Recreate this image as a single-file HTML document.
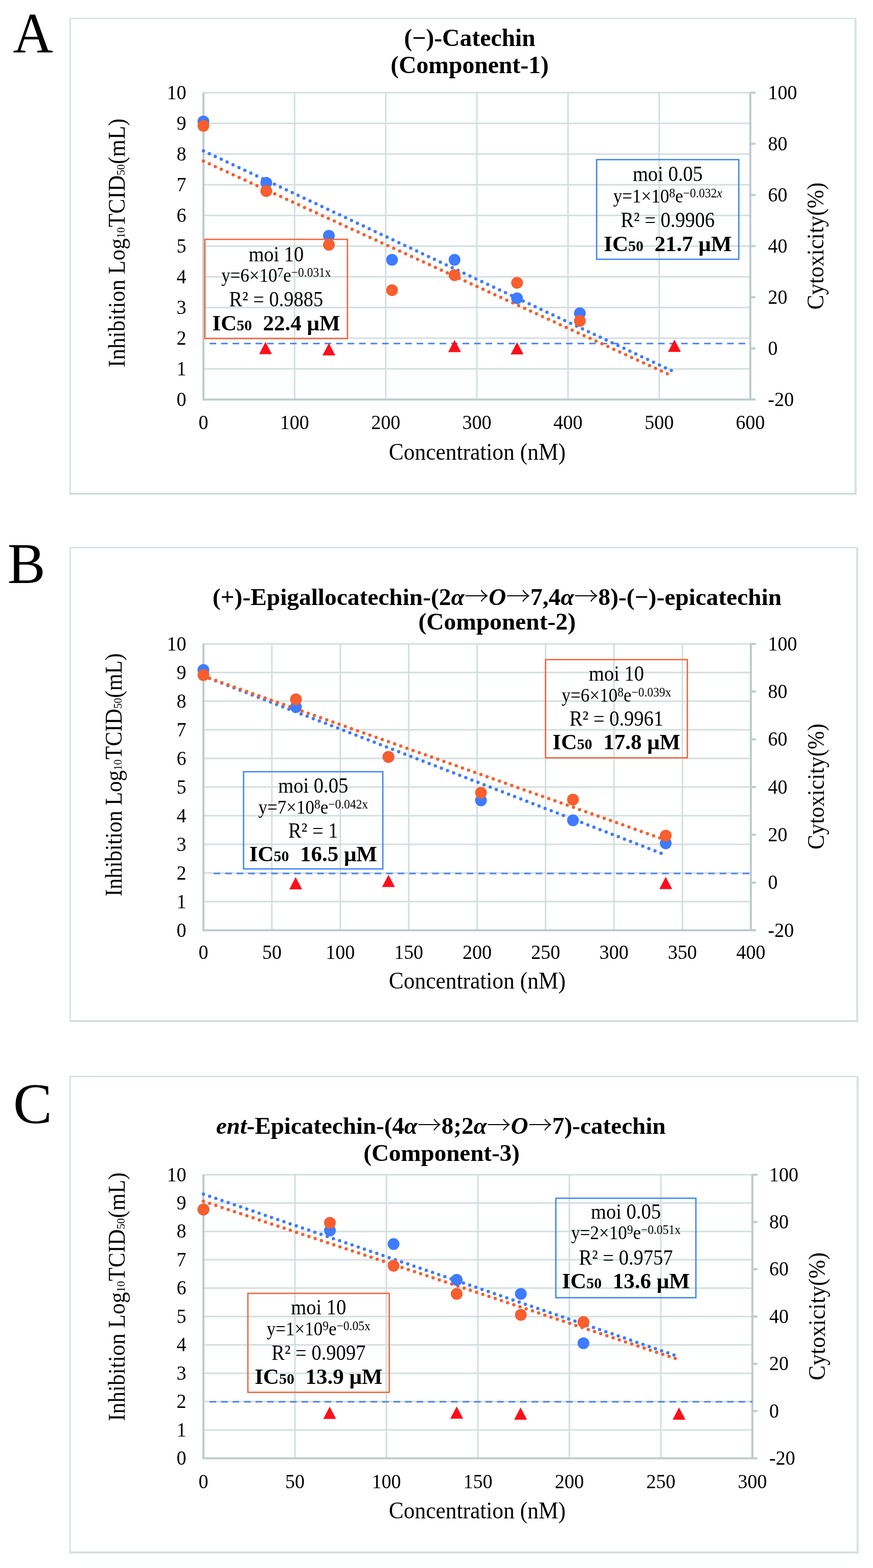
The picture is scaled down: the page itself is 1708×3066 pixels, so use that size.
<!DOCTYPE html><html><head><meta charset="utf-8"><title>Inhibition charts</title>
<style>html,body{margin:0;padding:0;background:#fff;}svg{display:block;}text{font-family:'Liberation Serif',serif;fill:#000;}</style></head><body>
<svg width="1708" height="3066" viewBox="0 0 1708 3066">
<rect width="1708" height="3066" fill="#fff"/>
<g>
<path d="M137.2 965.5V36H1673.9" fill="none" stroke="#d0dbdb" stroke-width="2.2"/>
<path d="M1673.9 35V967.5" fill="none" stroke="#d9e1e2" stroke-width="4"/>
<path d="M136.2 965.5H1673.9" fill="none" stroke="#d0dbdb" stroke-width="3.5"/>
<text transform="translate(25.2,103.2) scale(0.98,1.02)" font-size="111">A</text>
<path d="M576.33 181.3V781.2M754.67 181.3V781.2M933 181.3V781.2M1111.33 181.3V781.2M1289.67 181.3V781.2M398 721.21H1468M398 661.22H1468M398 601.23H1468M398 541.24H1468M398 481.25H1468M398 421.26H1468M398 361.27H1468M398 301.28H1468M398 241.29H1468M398 181.3H1468" stroke="#d4dede" stroke-width="3" fill="none"/>
<path d="M398 181.3V781.2H1468M1468 181.3V781.2M1468 781.2h10M1468 681.22h10M1468 581.23h10M1468 481.25h10M1468 381.27h10M1468 281.28h10M1468 181.3h10" stroke="#bfcbcd" stroke-width="4" fill="none"/>
<text transform="translate(364.5,793.7) scale(1,1.08)" font-size="38" text-anchor="end">0</text>
<text transform="translate(364.5,733.71) scale(1,1.08)" font-size="38" text-anchor="end">1</text>
<text transform="translate(364.5,673.72) scale(1,1.08)" font-size="38" text-anchor="end">2</text>
<text transform="translate(364.5,613.73) scale(1,1.08)" font-size="38" text-anchor="end">3</text>
<text transform="translate(364.5,553.74) scale(1,1.08)" font-size="38" text-anchor="end">4</text>
<text transform="translate(364.5,493.75) scale(1,1.08)" font-size="38" text-anchor="end">5</text>
<text transform="translate(364.5,433.76) scale(1,1.08)" font-size="38" text-anchor="end">6</text>
<text transform="translate(364.5,373.77) scale(1,1.08)" font-size="38" text-anchor="end">7</text>
<text transform="translate(364.5,313.78) scale(1,1.08)" font-size="38" text-anchor="end">8</text>
<text transform="translate(364.5,253.79) scale(1,1.08)" font-size="38" text-anchor="end">9</text>
<text transform="translate(364.5,193.8) scale(1,1.08)" font-size="38" text-anchor="end">10</text>
<text transform="translate(1502.5,793.7) scale(1,1.08)" font-size="38">-20</text>
<text transform="translate(1502.5,693.72) scale(1,1.08)" font-size="38">0</text>
<text transform="translate(1502.5,593.73) scale(1,1.08)" font-size="38">20</text>
<text transform="translate(1502.5,493.75) scale(1,1.08)" font-size="38">40</text>
<text transform="translate(1502.5,393.77) scale(1,1.08)" font-size="38">60</text>
<text transform="translate(1502.5,293.78) scale(1,1.08)" font-size="38">80</text>
<text transform="translate(1502.5,193.8) scale(1,1.08)" font-size="38">100</text>
<text transform="translate(398,839) scale(1,1.08)" font-size="38" text-anchor="middle">0</text>
<text transform="translate(576.33,839) scale(1,1.08)" font-size="38" text-anchor="middle">100</text>
<text transform="translate(754.67,839) scale(1,1.08)" font-size="38" text-anchor="middle">200</text>
<text transform="translate(933,839) scale(1,1.08)" font-size="38" text-anchor="middle">300</text>
<text transform="translate(1111.33,839) scale(1,1.08)" font-size="38" text-anchor="middle">400</text>
<text transform="translate(1289.67,839) scale(1,1.08)" font-size="38" text-anchor="middle">500</text>
<text transform="translate(1468,839) scale(1,1.08)" font-size="38" text-anchor="middle">600</text>
<text transform="translate(243.7,475) rotate(-90) scale(1,1.08)" font-size="43.45" text-anchor="middle">Inhibition Log<tspan font-size="21.73">10</tspan>TCID<tspan font-size="21.73">50</tspan>(mL)</text>
<text transform="translate(1611.4,481.2) rotate(-90) scale(1,1.08)" font-size="43.5" text-anchor="middle">Cytoxicity(%)</text>
<text transform="translate(933.75,899) scale(1,1.08)" font-size="43.4" text-anchor="middle">Concentration (nM)</text>
<text transform="translate(919,90)" font-size="47.6" text-anchor="middle" font-weight="bold">(−)-Catechin</text>
<text transform="translate(919,142.7)" font-size="47.6" text-anchor="middle" font-weight="bold">(Component-1)</text>
<path d="M410 671.7H1468" stroke="#4a84f6" stroke-width="3" stroke-dasharray="13 9.5" fill="none"/>
<path d="M398 295L1317.5 726.5" stroke="#3e7bff" stroke-width="6.5" stroke-linecap="round" stroke-dasharray="0 12.8" fill="none"/>
<path d="M398 315L1312.5 734" stroke="#f85e2e" stroke-width="6.5" stroke-linecap="round" stroke-dasharray="0 12.8" fill="none"/>
<circle cx="398" cy="237.5" r="11.5" fill="#3e7bff"/>
<circle cx="521" cy="357.5" r="11.5" fill="#3e7bff"/>
<circle cx="643.5" cy="461" r="11.5" fill="#3e7bff"/>
<circle cx="767" cy="508" r="11.5" fill="#3e7bff"/>
<circle cx="889.3" cy="508" r="11.5" fill="#3e7bff"/>
<circle cx="1011.6" cy="583.2" r="11.5" fill="#3e7bff"/>
<circle cx="1134.5" cy="612.5" r="11.5" fill="#3e7bff"/>
<circle cx="398" cy="246" r="11.5" fill="#f85e2e"/>
<circle cx="521" cy="373.5" r="11.5" fill="#f85e2e"/>
<circle cx="643.5" cy="478.6" r="11.5" fill="#f85e2e"/>
<circle cx="767" cy="567.4" r="11.5" fill="#f85e2e"/>
<circle cx="889.3" cy="538" r="11.5" fill="#f85e2e"/>
<circle cx="1011.6" cy="553" r="11.5" fill="#f85e2e"/>
<circle cx="1134.5" cy="627.5" r="11.5" fill="#f85e2e"/>
<path d="M519.4 668.6L531.9 692.6H506.9Z" fill="#ff0d1a"/>
<path d="M643.5 671L656 695H631Z" fill="#ff0d1a"/>
<path d="M889.3 664.5L901.8 688.5H876.8Z" fill="#ff0d1a"/>
<path d="M1011.6 669L1024.1 693H999.1Z" fill="#ff0d1a"/>
<path d="M1319.5 664L1332 688H1307Z" fill="#ff0d1a"/>
<rect x="400.9" y="468" width="278.9" height="194" fill="none" stroke="#f4623a" stroke-width="2.6"/>
<text transform="translate(540.35,511) scale(1,1.08)" font-size="38.5" text-anchor="middle">moi 10</text>
<text transform="translate(540.35,551.2) scale(1,1.08)" font-size="35" text-anchor="middle">y=6×10<tspan font-size="23.5" dy="-9">7</tspan><tspan dy="9">e</tspan><tspan font-size="23.5" dy="-9">−0.031x</tspan></text>
<text transform="translate(540.35,599.3) scale(1,1.08)" font-size="38.5" text-anchor="middle">R² = 0.9885</text>
<text transform="translate(540.35,646.3)" font-size="43" text-anchor="middle" font-weight="bold" style="white-space:pre">IC<tspan font-size="30">50</tspan>  22.4 μM</text>
<rect x="1167.3" y="312.1" width="278.1" height="194.9" fill="none" stroke="#3d85f5" stroke-width="2.6"/>
<text transform="translate(1306.35,354.4) scale(1,1.08)" font-size="38.5" text-anchor="middle">moi 0.05</text>
<text transform="translate(1306.35,396.2) scale(1,1.08)" font-size="35" text-anchor="middle">y=1×10<tspan font-size="23.5" dy="-9">8</tspan><tspan dy="9">e</tspan><tspan font-size="23.5" dy="-9">−0.032<tspan font-style="italic">x</tspan></tspan></text>
<text transform="translate(1306.35,444.3) scale(1,1.08)" font-size="38.5" text-anchor="middle">R² = 0.9906</text>
<text transform="translate(1306.35,490.7)" font-size="43" text-anchor="middle" font-weight="bold" style="white-space:pre">IC<tspan font-size="30">50</tspan>  21.7 μM</text>
</g>
<g>
<path d="M137.2 1996.5V1071H1677" fill="none" stroke="#d0dbdb" stroke-width="2.2"/>
<path d="M1677 1070V1998.5" fill="none" stroke="#d9e1e2" stroke-width="4"/>
<path d="M136.2 1996.5H1677" fill="none" stroke="#d0dbdb" stroke-width="3.5"/>
<text transform="translate(14.8,1140.3) scale(1,1.02)" font-size="111">B</text>
<path d="M531.88 1259V1819M665.75 1259V1819M799.62 1259V1819M933.5 1259V1819M1067.38 1259V1819M1201.25 1259V1819M1335.12 1259V1819M398 1763H1469M398 1707H1469M398 1651H1469M398 1595H1469M398 1539H1469M398 1483H1469M398 1427H1469M398 1371H1469M398 1315H1469M398 1259H1469" stroke="#d4dede" stroke-width="3" fill="none"/>
<path d="M398 1259V1819H1469M1469 1259V1819M1469 1819h10M1469 1725.67h10M1469 1632.33h10M1469 1539h10M1469 1445.67h10M1469 1352.33h10M1469 1259h10" stroke="#bfcbcd" stroke-width="4" fill="none"/>
<text transform="translate(364.5,1831.5) scale(1,1.08)" font-size="38" text-anchor="end">0</text>
<text transform="translate(364.5,1775.5) scale(1,1.08)" font-size="38" text-anchor="end">1</text>
<text transform="translate(364.5,1719.5) scale(1,1.08)" font-size="38" text-anchor="end">2</text>
<text transform="translate(364.5,1663.5) scale(1,1.08)" font-size="38" text-anchor="end">3</text>
<text transform="translate(364.5,1607.5) scale(1,1.08)" font-size="38" text-anchor="end">4</text>
<text transform="translate(364.5,1551.5) scale(1,1.08)" font-size="38" text-anchor="end">5</text>
<text transform="translate(364.5,1495.5) scale(1,1.08)" font-size="38" text-anchor="end">6</text>
<text transform="translate(364.5,1439.5) scale(1,1.08)" font-size="38" text-anchor="end">7</text>
<text transform="translate(364.5,1383.5) scale(1,1.08)" font-size="38" text-anchor="end">8</text>
<text transform="translate(364.5,1327.5) scale(1,1.08)" font-size="38" text-anchor="end">9</text>
<text transform="translate(364.5,1271.5) scale(1,1.08)" font-size="38" text-anchor="end">10</text>
<text transform="translate(1502.5,1831.5) scale(1,1.08)" font-size="38">-20</text>
<text transform="translate(1502.5,1738.17) scale(1,1.08)" font-size="38">0</text>
<text transform="translate(1502.5,1644.83) scale(1,1.08)" font-size="38">20</text>
<text transform="translate(1502.5,1551.5) scale(1,1.08)" font-size="38">40</text>
<text transform="translate(1502.5,1458.17) scale(1,1.08)" font-size="38">60</text>
<text transform="translate(1502.5,1364.83) scale(1,1.08)" font-size="38">80</text>
<text transform="translate(1502.5,1271.5) scale(1,1.08)" font-size="38">100</text>
<text transform="translate(398,1875) scale(1,1.08)" font-size="38" text-anchor="middle">0</text>
<text transform="translate(531.88,1875) scale(1,1.08)" font-size="38" text-anchor="middle">50</text>
<text transform="translate(665.75,1875) scale(1,1.08)" font-size="38" text-anchor="middle">100</text>
<text transform="translate(799.62,1875) scale(1,1.08)" font-size="38" text-anchor="middle">150</text>
<text transform="translate(933.5,1875) scale(1,1.08)" font-size="38" text-anchor="middle">200</text>
<text transform="translate(1067.38,1875) scale(1,1.08)" font-size="38" text-anchor="middle">250</text>
<text transform="translate(1201.25,1875) scale(1,1.08)" font-size="38" text-anchor="middle">300</text>
<text transform="translate(1335.12,1875) scale(1,1.08)" font-size="38" text-anchor="middle">350</text>
<text transform="translate(1469,1875) scale(1,1.08)" font-size="38" text-anchor="middle">400</text>
<text transform="translate(238.1,1515.1) rotate(-90) scale(1,1.08)" font-size="42.5" text-anchor="middle">Inhibition Log<tspan font-size="21.25">10</tspan>TCID<tspan font-size="21.25">50</tspan>(mL)</text>
<text transform="translate(1612.4,1538) rotate(-90) scale(1,1.08)" font-size="43" text-anchor="middle">Cytoxicity(%)</text>
<text transform="translate(933.75,1932.5) scale(1,1.08)" font-size="43.4" text-anchor="middle">Concentration (nM)</text>
<text transform="translate(972.5,1182.5)" font-size="47.4" text-anchor="middle" font-weight="bold">(+)-Epigallocatechin-(2<tspan font-style="italic">α</tspan><tspan font-family="'Noto Serif CJK SC', serif" font-weight="normal">→</tspan><tspan font-style="italic">O</tspan><tspan font-family="'Noto Serif CJK SC', serif" font-weight="normal">→</tspan>7,4<tspan font-style="italic">α</tspan><tspan font-family="'Noto Serif CJK SC', serif" font-weight="normal">→</tspan>8)-(−)-epicatechin</text>
<text transform="translate(972.5,1231)" font-size="47.4" text-anchor="middle" font-weight="bold">(Component-2)</text>
<path d="M418 1708H1469" stroke="#4a84f6" stroke-width="3" stroke-dasharray="13 9.5" fill="none"/>
<path d="M398 1322L1297.5 1670" stroke="#3e7bff" stroke-width="6.5" stroke-linecap="round" stroke-dasharray="0 12.8" fill="none"/>
<path d="M398 1322L1295 1640" stroke="#f85e2e" stroke-width="6.5" stroke-linecap="round" stroke-dasharray="0 12.8" fill="none"/>
<circle cx="398" cy="1310" r="11.5" fill="#3e7bff"/>
<circle cx="579" cy="1382.5" r="11.5" fill="#3e7bff"/>
<circle cx="760" cy="1480" r="11.5" fill="#3e7bff"/>
<circle cx="941" cy="1565" r="11.5" fill="#3e7bff"/>
<circle cx="1121" cy="1604" r="11.5" fill="#3e7bff"/>
<circle cx="1302.5" cy="1649" r="11.5" fill="#3e7bff"/>
<circle cx="398" cy="1320" r="11.5" fill="#f85e2e"/>
<circle cx="579" cy="1367.5" r="11.5" fill="#f85e2e"/>
<circle cx="760" cy="1480" r="11.5" fill="#f85e2e"/>
<circle cx="941" cy="1550" r="11.5" fill="#f85e2e"/>
<circle cx="1121" cy="1563.5" r="11.5" fill="#f85e2e"/>
<circle cx="1302.5" cy="1634" r="11.5" fill="#f85e2e"/>
<path d="M578.5 1715L591 1739H566Z" fill="#ff0d1a"/>
<path d="M760 1710.5L772.5 1734.5H747.5Z" fill="#ff0d1a"/>
<path d="M1302.5 1714.5L1315 1738.5H1290Z" fill="#ff0d1a"/>
<rect x="476.5" y="1509" width="272.5" height="190" fill="none" stroke="#3d85f5" stroke-width="2.6"/>
<text transform="translate(612.75,1550) scale(1,1.08)" font-size="38.5" text-anchor="middle">moi 0.05</text>
<text transform="translate(612.75,1591) scale(1,1.08)" font-size="35" text-anchor="middle">y=7×10<tspan font-size="23.5" dy="-9">8</tspan><tspan dy="9">e</tspan><tspan font-size="23.5" dy="-9">−0.042x</tspan></text>
<text transform="translate(612.75,1637.5) scale(1,1.08)" font-size="38.5" text-anchor="middle">R² = 1</text>
<text transform="translate(612.75,1684)" font-size="43" text-anchor="middle" font-weight="bold" style="white-space:pre">IC<tspan font-size="30">50</tspan>  16.5 μM</text>
<rect x="1067.3" y="1289.8" width="277.5" height="192" fill="none" stroke="#f4623a" stroke-width="2.6"/>
<text transform="translate(1206.05,1330.8) scale(1,1.08)" font-size="38.5" text-anchor="middle">moi 10</text>
<text transform="translate(1206.05,1371.6) scale(1,1.08)" font-size="35" text-anchor="middle">y=6×10<tspan font-size="23.5" dy="-9">8</tspan><tspan dy="9">e</tspan><tspan font-size="23.5" dy="-9">−0.039x</tspan></text>
<text transform="translate(1206.05,1419) scale(1,1.08)" font-size="38.5" text-anchor="middle">R² = 0.9961</text>
<text transform="translate(1206.05,1465)" font-size="43" text-anchor="middle" font-weight="bold" style="white-space:pre">IC<tspan font-size="30">50</tspan>  17.8 μM</text>
</g>
<g>
<path d="M137.1 3035.5V2104.9H1677.9" fill="none" stroke="#d0dbdb" stroke-width="2.2"/>
<path d="M1677.9 2103.9V3037.5" fill="none" stroke="#d9e1e2" stroke-width="4"/>
<path d="M136.1 3035.5H1677.9" fill="none" stroke="#d0dbdb" stroke-width="3.5"/>
<text transform="translate(25.7,2196.4) scale(1.03,1.02)" font-size="111">C</text>
<path d="M577 2297V2851.5M756 2297V2851.5M935 2297V2851.5M1114 2297V2851.5M1293 2297V2851.5M398 2796.05H1472M398 2740.6H1472M398 2685.15H1472M398 2629.7H1472M398 2574.25H1472M398 2518.8H1472M398 2463.35H1472M398 2407.9H1472M398 2352.45H1472M398 2297H1472" stroke="#d4dede" stroke-width="3" fill="none"/>
<path d="M398 2297V2851.5H1472M1472 2297V2851.5M1472 2851.5h10M1472 2759.08h10M1472 2666.67h10M1472 2574.25h10M1472 2481.83h10M1472 2389.42h10M1472 2297h10" stroke="#bfcbcd" stroke-width="4" fill="none"/>
<text transform="translate(364.5,2864) scale(1,1.08)" font-size="38" text-anchor="end">0</text>
<text transform="translate(364.5,2808.55) scale(1,1.08)" font-size="38" text-anchor="end">1</text>
<text transform="translate(364.5,2753.1) scale(1,1.08)" font-size="38" text-anchor="end">2</text>
<text transform="translate(364.5,2697.65) scale(1,1.08)" font-size="38" text-anchor="end">3</text>
<text transform="translate(364.5,2642.2) scale(1,1.08)" font-size="38" text-anchor="end">4</text>
<text transform="translate(364.5,2586.75) scale(1,1.08)" font-size="38" text-anchor="end">5</text>
<text transform="translate(364.5,2531.3) scale(1,1.08)" font-size="38" text-anchor="end">6</text>
<text transform="translate(364.5,2475.85) scale(1,1.08)" font-size="38" text-anchor="end">7</text>
<text transform="translate(364.5,2420.4) scale(1,1.08)" font-size="38" text-anchor="end">8</text>
<text transform="translate(364.5,2364.95) scale(1,1.08)" font-size="38" text-anchor="end">9</text>
<text transform="translate(364.5,2309.5) scale(1,1.08)" font-size="38" text-anchor="end">10</text>
<text transform="translate(1505,2864) scale(1,1.08)" font-size="38">-20</text>
<text transform="translate(1505,2771.58) scale(1,1.08)" font-size="38">0</text>
<text transform="translate(1505,2679.17) scale(1,1.08)" font-size="38">20</text>
<text transform="translate(1505,2586.75) scale(1,1.08)" font-size="38">40</text>
<text transform="translate(1505,2494.33) scale(1,1.08)" font-size="38">60</text>
<text transform="translate(1505,2401.92) scale(1,1.08)" font-size="38">80</text>
<text transform="translate(1505,2309.5) scale(1,1.08)" font-size="38">100</text>
<text transform="translate(398,2910) scale(1,1.08)" font-size="38" text-anchor="middle">0</text>
<text transform="translate(577,2910) scale(1,1.08)" font-size="38" text-anchor="middle">50</text>
<text transform="translate(756,2910) scale(1,1.08)" font-size="38" text-anchor="middle">100</text>
<text transform="translate(935,2910) scale(1,1.08)" font-size="38" text-anchor="middle">150</text>
<text transform="translate(1114,2910) scale(1,1.08)" font-size="38" text-anchor="middle">200</text>
<text transform="translate(1293,2910) scale(1,1.08)" font-size="38" text-anchor="middle">250</text>
<text transform="translate(1472,2910) scale(1,1.08)" font-size="38" text-anchor="middle">300</text>
<text transform="translate(243.7,2535.7) rotate(-90) scale(1,1.08)" font-size="43.45" text-anchor="middle">Inhibition Log<tspan font-size="21.73">10</tspan>TCID<tspan font-size="21.73">50</tspan>(mL)</text>
<text transform="translate(1613.5,2574) rotate(-90) scale(1,1.08)" font-size="43.7" text-anchor="middle">Cytoxicity(%)</text>
<text transform="translate(933.75,2969) scale(1,1.08)" font-size="43.4" text-anchor="middle">Concentration (nM)</text>
<text transform="translate(862.5,2217)" font-size="47" text-anchor="middle" font-weight="bold"><tspan font-style="italic">ent</tspan>-Epicatechin-(4<tspan font-style="italic">α</tspan><tspan font-family="'Noto Serif CJK SC', serif" font-weight="normal">→</tspan>8;2<tspan font-style="italic">α</tspan><tspan font-family="'Noto Serif CJK SC', serif" font-weight="normal">→</tspan><tspan font-style="italic">O</tspan><tspan font-family="'Noto Serif CJK SC', serif" font-weight="normal">→</tspan>7)-catechin</text>
<text transform="translate(864,2270)" font-size="47" text-anchor="middle" font-weight="bold">(Component-3)</text>
<path d="M410 2741H1472" stroke="#4a84f6" stroke-width="3" stroke-dasharray="13 9.5" fill="none"/>
<path d="M398 2335L1327.5 2652.5" stroke="#3e7bff" stroke-width="6.5" stroke-linecap="round" stroke-dasharray="0 12.8" fill="none"/>
<path d="M398 2349L1327.5 2658.5" stroke="#f85e2e" stroke-width="6.5" stroke-linecap="round" stroke-dasharray="0 12.8" fill="none"/>
<circle cx="398" cy="2365" r="11.5" fill="#3e7bff"/>
<circle cx="645.5" cy="2406" r="11.5" fill="#3e7bff"/>
<circle cx="770" cy="2432.5" r="11.5" fill="#3e7bff"/>
<circle cx="893.5" cy="2502.5" r="11.5" fill="#3e7bff"/>
<circle cx="1019" cy="2530" r="11.5" fill="#3e7bff"/>
<circle cx="1141.5" cy="2626.5" r="11.5" fill="#3e7bff"/>
<circle cx="398" cy="2365" r="11.5" fill="#f85e2e"/>
<circle cx="645.5" cy="2391" r="11.5" fill="#f85e2e"/>
<circle cx="770" cy="2475" r="11.5" fill="#f85e2e"/>
<circle cx="893.5" cy="2530" r="11.5" fill="#f85e2e"/>
<circle cx="1019" cy="2571" r="11.5" fill="#f85e2e"/>
<circle cx="1141.5" cy="2585" r="11.5" fill="#f85e2e"/>
<path d="M645 2750.5L657.5 2774.5H632.5Z" fill="#ff0d1a"/>
<path d="M893.5 2750L906 2774H881Z" fill="#ff0d1a"/>
<path d="M1018.5 2752L1031 2776H1006Z" fill="#ff0d1a"/>
<path d="M1328.5 2752L1341 2776H1316Z" fill="#ff0d1a"/>
<rect x="485" y="2529" width="276.5" height="193.5" fill="none" stroke="#f4623a" stroke-width="2.6"/>
<text transform="translate(623.25,2570) scale(1,1.08)" font-size="38.5" text-anchor="middle">moi 10</text>
<text transform="translate(623.25,2611) scale(1,1.08)" font-size="35" text-anchor="middle">y=1×10<tspan font-size="23.5" dy="-9">9</tspan><tspan dy="9">e</tspan><tspan font-size="23.5" dy="-9">−0.05x</tspan></text>
<text transform="translate(623.25,2659) scale(1,1.08)" font-size="38.5" text-anchor="middle">R² = 0.9097</text>
<text transform="translate(623.25,2706)" font-size="43" text-anchor="middle" font-weight="bold" style="white-space:pre">IC<tspan font-size="30">50</tspan>  13.9 μM</text>
<rect x="1087.5" y="2343" width="274" height="194.5" fill="none" stroke="#3d85f5" stroke-width="2.6"/>
<text transform="translate(1224.5,2382.5) scale(1,1.08)" font-size="38.5" text-anchor="middle">moi 0.05</text>
<text transform="translate(1224.5,2422.5) scale(1,1.08)" font-size="35" text-anchor="middle">y=2×10<tspan font-size="23.5" dy="-9">9</tspan><tspan dy="9">e</tspan><tspan font-size="23.5" dy="-9">−0.051x</tspan></text>
<text transform="translate(1224.5,2472.5) scale(1,1.08)" font-size="38.5" text-anchor="middle">R² = 0.9757</text>
<text transform="translate(1224.5,2519)" font-size="43" text-anchor="middle" font-weight="bold" style="white-space:pre">IC<tspan font-size="30">50</tspan>  13.6 μM</text>
</g>
</svg></body></html>
